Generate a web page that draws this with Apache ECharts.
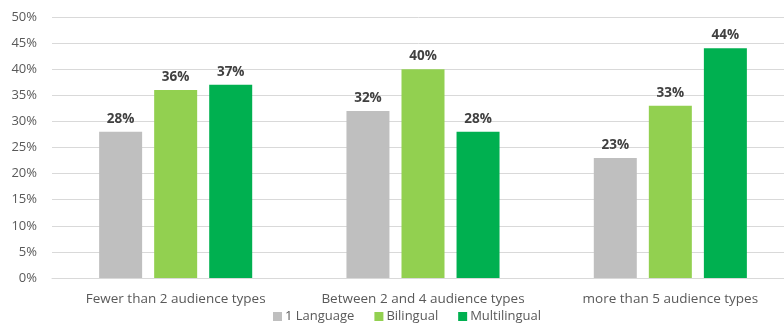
<!DOCTYPE html>
<html>
<head>
<meta charset="utf-8">
<script src="https://cdn.jsdelivr.net/npm/echarts@6/dist/echarts.min.js"></script>
<style>
  html, body { margin: 0; padding: 0; background: #fff; overflow: hidden; }
  #chart { width: 784px; height: 329px; }
</style>
</head>
<body>
<div id="chart"></div>
<script>
// Share of respondents by number of audience types, split by language profile
const categories = ['Fewer than 2 audience types', 'Between 2 and 4 audience types', 'more than 5 audience types'];
const seriesNames = ['1 Language', 'Bilingual', 'Multilingual'];
const oneLanguage = [28, 32, 23];
const bilingual = [36, 40, 33];
const multilingual = [37, 28, 44];
const yTicks = [0, 5, 10, 15, 20, 25, 30, 35, 40, 45, 50];

const colors = ['#BFBFBF', '#92D050', '#00B050'];
const font = 'Open Sans';

const labelStyle = {
  show: true,
  position: 'top',
  distance: 6,
  fontFamily: font,
  fontWeight: 'bold',
  fontSize: 13.5,
  color: '#404040',
  formatter: p => Math.round(p.value) + '%'
};

const chart = echarts.init(document.getElementById('chart'), null, { renderer: 'canvas' });
chart.setOption({
  animation: false,
  color: colors,
  textStyle: { fontFamily: font },
  // plot area runs slightly past the right edge of the canvas
  grid: { left: 52, width: 742, top: 17, bottom: 51, containLabel: false, outerBoundsMode: 'none' },
  legend: {
    data: seriesNames,
    bottom: 1,
    left: 268,
    itemWidth: 9,
    itemHeight: 9,
    itemGap: 20,
    icon: 'rect',
    textStyle: { fontFamily: font, fontSize: 13, color: '#595959', padding: [0, 0, 0, -2] }
  },
  xAxis: {
    type: 'category',
    data: categories,
    axisTick: { show: false },
    axisLine: { lineStyle: { color: '#D9D9D9', width: 1 } },
    axisLabel: { interval: 0, fontFamily: font, fontSize: 13.5, color: '#595959', margin: 14 }
  },
  yAxis: {
    type: 'value',
    min: yTicks[0],
    max: yTicks[yTicks.length - 1],
    interval: yTicks[1] - yTicks[0],
    axisLine: { show: false },
    axisTick: { show: false },
    splitLine: { lineStyle: { color: '#D9D9D9', width: 1 } },
    axisLabel: { fontFamily: font, fontSize: 13, color: '#595959', margin: 15, formatter: v => v + '%' }
  },
  series: [
    { name: seriesNames[0], type: 'bar', data: oneLanguage, barWidth: 43, barGap: '28%', label: labelStyle },
    { name: seriesNames[1], type: 'bar', data: bilingual, barWidth: 43, barGap: '28%', label: labelStyle },
    { name: seriesNames[2], type: 'bar', data: multilingual, barWidth: 43, barGap: '28%', label: labelStyle }
  ]
});
</script>
</body>
</html>
